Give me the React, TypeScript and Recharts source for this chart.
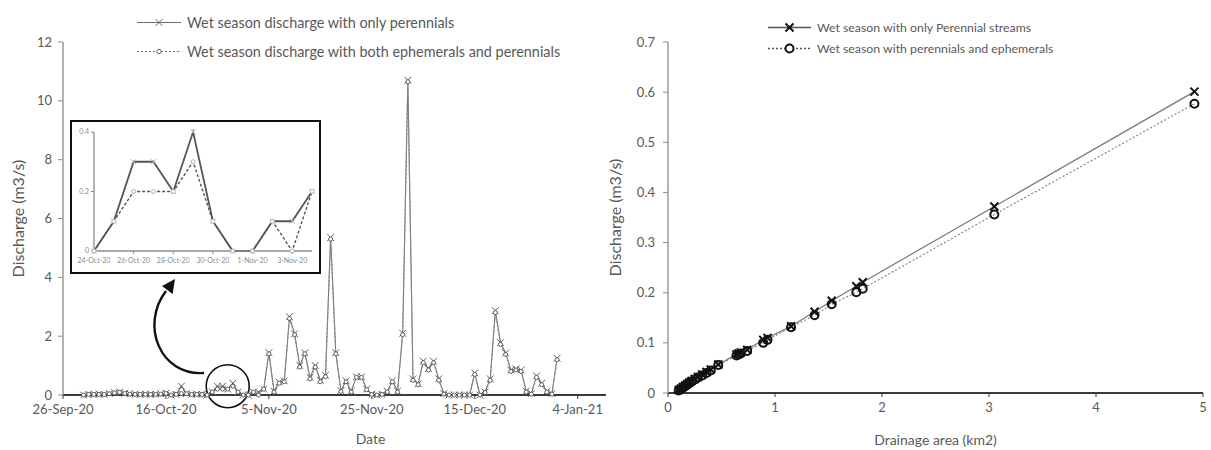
import React from "react";
import { LineChart, Line, XAxis, YAxis, Legend, ReferenceDot } from "recharts";

const FONT = "Lato, 'Open Sans', sans-serif";
const TEXT = "#595959";

// ---------- hydrograph (left) ----------
// x = days after 26-Sep-20; first record is 30-Sep-20, last 31-Dec-20
const firstDay = 4;
const perennials = [
  // 30-Sep .. 23-Oct
  0, 0.02, 0.02, 0.03, 0.02, 0.05, 0.08, 0.1, 0.06, 0.04, 0.03, 0.02, 0.03, 0.02, 0.03, 0.04, 0.06, 0, 0.02, 0.3, 0.05, 0.02, 0.03, 0.02,
  // 24-Oct .. 4-Nov
  0, 0.1, 0.3, 0.3, 0.2, 0.4, 0.1, 0, 0, 0.1, 0.1, 0.2,
  // 5-Nov .. 31-Dec
  1.44, 0.13, 0.44, 0.48, 2.66, 2.08, 1.0, 1.44, 0.6, 1.0, 0.5, 0.67, 5.35, 1.44, 0.15, 0.48, 0.13, 0.62, 0.62, 0.2, 0.03, 0, 0.02, 0.13, 0.48, 0.13,
  2.1, 10.7, 0.55, 0.38, 1.15, 0.9, 1.15, 0.55, 0.05, 0, 0, 0, 0, 0, 0.75, 0, 0.1, 0.55, 2.87, 1.78, 1.43, 0.85, 0.89, 0.85, 0.13, 0.05, 0.65, 0.4, 0.13, 0.05, 1.25,
];
const ephemerals = [
  0, 0.02, 0.02, 0.02, 0.02, 0.04, 0.07, 0.09, 0.05, 0.03, 0.02, 0.02, 0.02, 0.02, 0.02, 0.03, 0.05, 0, 0.02, 0.05, 0.04, 0.02, 0.02, 0.02,
  0, 0.1, 0.2, 0.2, 0.2, 0.3, 0.1, 0, 0, 0.1, 0, 0.2,
  1.4, 0.1, 0.4, 0.45, 2.6, 2.05, 0.95, 1.4, 0.55, 0.95, 0.45, 0.62, 5.3, 1.4, 0.12, 0.45, 0.1, 0.6, 0.6, 0.18, 0.02, 0, 0.02, 0.1, 0.45, 0.1,
  2.05, 10.65, 0.5, 0.35, 1.1, 0.85, 1.1, 0.5, 0.03, 0, 0, 0, 0, 0, 0.7, 0, 0.08, 0.5, 2.8, 1.72, 1.38, 0.8, 0.85, 0.8, 0.1, 0.03, 0.6, 0.35, 0.1, 0.03, 1.2,
];
const dateTicks = [0, 20, 40, 60, 80, 100];
const dateTickLabels = ["26-Sep-20", "16-Oct-20", "5-Nov-20", "25-Nov-20", "15-Dec-20", "4-Jan-21"];
const dischargeTicks = [0, 2, 4, 6, 8, 10, 12];

// zoomed inset, 24-Oct-20 .. 4-Nov-20
const insetFrom = 28;
const insetTo = 39;
const insetTicks = [28, 30, 32, 34, 36, 38];
const insetTickLabels = ["24-Oct-20", "26-Oct-20", "28-Oct-20", "30-Oct-20", "1-Nov-20", "3-Nov-20"];
const insetYTicks = [0, 0.2, 0.4];

// ---------- discharge vs drainage area (right) ----------
const areas = [0.1, 0.12, 0.14, 0.16, 0.18, 0.2, 0.22, 0.25, 0.28, 0.32, 0.36, 0.4, 0.47, 0.64, 0.66, 0.68, 0.74, 0.89, 0.93, 1.15, 1.37, 1.53, 1.76, 1.82, 3.05, 4.92];
const perennialQ = [0.006, 0.009, 0.012, 0.015, 0.018, 0.021, 0.024, 0.028, 0.032, 0.037, 0.042, 0.047, 0.057, 0.077, 0.079, 0.081, 0.086, 0.106, 0.11, 0.133, 0.162, 0.184, 0.213, 0.221, 0.372, 0.601];
const ephemeralQ = [0.005, 0.008, 0.011, 0.014, 0.017, 0.02, 0.023, 0.027, 0.031, 0.035, 0.04, 0.045, 0.056, 0.075, 0.077, 0.079, 0.084, 0.1, 0.106, 0.131, 0.155, 0.177, 0.201, 0.208, 0.356, 0.577];
const areaTicks = [0, 1, 2, 3, 4, 5];
const qTicks = [0, 0.1, 0.2, 0.3, 0.4, 0.5, 0.6, 0.7];

const hydro = perennials.map((v, i) => ({ day: firstDay + i, per: v, eph: ephemerals[i] }));
const insetData = hydro.filter((d) => d.day >= insetFrom && d.day <= insetTo);
const areaData = areas.map((a, i) => ({ area: a, per: perennialQ[i], eph: ephemeralQ[i] }));

const XMark = ({ cx, cy, s, color, w }: any) =>
  cx == null ? null : (
    <path
      d={`M${cx - s},${cy - s}L${cx + s},${cy + s}M${cx - s},${cy + s}L${cx + s},${cy - s}`}
      stroke={color}
      strokeWidth={w}
      fill="none"
    />
  );
const OMark = ({ cx, cy, r, color, w, fill }: any) =>
  cx == null ? null : <circle cx={cx} cy={cy} r={r} stroke={color} strokeWidth={w} fill={fill} />;

const xDot = (s: number, color: string, w: number) => (p: any) => (
  <XMark key={`x${p.index}`} cx={p.cx} cy={p.cy} s={s} color={color} w={w} />
);
const oDot = (r: number, color: string, w: number, fill: string) => (p: any) => (
  <OMark key={`o${p.index}`} cx={p.cx} cy={p.cy} r={r} color={color} w={w} fill={fill} />
);

const seriesOrder = ["per", "eph"];

// legend rows: line sample with the series marker, then the label
const legendContent =
  (rowH: number, sampleW: number, fontSize: number, big: boolean) =>
  ({ payload }: any) => {
    const items = [...(payload || [])].sort(
      (a: any, b: any) => seriesOrder.indexOf(a.dataKey) - seriesOrder.indexOf(b.dataKey)
    );
    return (
      <div style={{ fontFamily: FONT, fontSize, color: TEXT }}>
        {items.map((e: any) => {
          const solid = e.dataKey === "per";
          const mid = rowH / 2;
          return (
            <div key={e.dataKey} style={{ display: "flex", alignItems: "center", height: rowH, whiteSpace: "nowrap" }}>
              <svg width={sampleW} height={rowH} style={{ marginRight: 6 }}>
                <line
                  x1={0}
                  x2={sampleW}
                  y1={mid}
                  y2={mid}
                  stroke={big ? "#555" : "#6a6a6a"}
                  strokeWidth={big ? 1.3 : 1.2}
                  strokeDasharray={solid ? undefined : "2 2"}
                />
                {solid ? (
                  <XMark cx={sampleW / 2} cy={mid} s={big ? 4 : 3.5} color={big ? "#111" : "#666"} w={big ? 2 : 1} />
                ) : (
                  <OMark cx={sampleW / 2} cy={mid} r={big ? 4 : 2.2} color={big ? "#111" : "#666"} w={big ? 2 : 1} fill="#fff" />
                )}
              </svg>
              <span>{e.value}</span>
            </div>
          );
        })}
      </div>
    );
  };

const tickStyle = { fill: TEXT, fontSize: 13, fontFamily: FONT };
const titleStyle = { fill: TEXT, fontSize: 14, fontFamily: FONT };
const yTitleStyle = { fill: TEXT, fontSize: 16, fontFamily: FONT };

export default function App() {
  return (
    <div style={{ position: "absolute", left: 0, top: 0, width: 1211, height: 450, background: "#fff", overflow: "hidden" }}>
      {/* left: wet season hydrograph */}
      <div style={{ position: "absolute", left: 0, top: 0 }}>
        <LineChart width={620} height={450} data={hydro} margin={{ top: 42, right: 14, bottom: 0, left: 8 }}>
          <XAxis
            dataKey="day"
            type="number"
            domain={[0, 105.5]}
            ticks={dateTicks}
            tickFormatter={(v: number) => dateTickLabels[dateTicks.indexOf(v)] ?? ""}
            height={55}
            tick={tickStyle}
            tickSize={4}
            tickMargin={6}
            axisLine={{ stroke: "#3a3a3a", strokeWidth: 2 }}
            tickLine={{ stroke: "#3a3a3a" }}
            label={{ value: "Date", position: "insideBottom", offset: 6, dx: 36, ...titleStyle }}
          />
          <YAxis
            type="number"
            domain={[0, 12]}
            ticks={dischargeTicks}
            width={55}
            tick={tickStyle}
            tickSize={5}
            tickMargin={6}
            axisLine={{ stroke: "#8c8c8c", strokeWidth: 1.3 }}
            tickLine={{ stroke: "#8c8c8c" }}
            label={{ value: "Discharge (m3/s)", angle: -90, position: "insideLeft", offset: 10, style: { textAnchor: "middle" }, ...yTitleStyle }}
          />
          <Legend
            layout="vertical"
            align="center"
            verticalAlign="middle"
            wrapperStyle={{ left: 137, top: 7.5 }}
            content={legendContent(29, 44, 14.4, false)}
          />
          <Line
            dataKey="per"
            name="Wet season discharge with only perennials"
            stroke="#737373"
            strokeWidth={1.1}
            dot={xDot(3.4, "#5e5e5e", 1)}
            isAnimationActive={false}
          />
          <Line
            dataKey="eph"
            name="Wet season discharge with both ephemerals and perennials"
            stroke="#8c8c8c"
            strokeWidth={1.1}
            strokeDasharray="2 2"
            dot={oDot(2, "#5e5e5e", 1, "#fff")}
            isAnimationActive={false}
          />
          <ReferenceDot x={32} y={0.3} r={21.5} fill="none" stroke="#111" strokeWidth={1.6} />
        </LineChart>
      </div>

      {/* curved arrow from the circled period to the inset */}
      <svg width={620} height={450} style={{ position: "absolute", left: 0, top: 0, pointerEvents: "none" }}>
        <path d="M204,373 C160,376 140,325 166,291" stroke="#111" strokeWidth={2.4} fill="none" />
        <path d="M175,279 L172.6,294 L162,286 Z" fill="#111" />
      </svg>

      {/* inset: 24-Oct-20 to 4-Nov-20 */}
      <div
        style={{
          position: "absolute",
          left: 70,
          top: 120,
          width: 251,
          height: 154,
          border: "2px solid #111",
          boxSizing: "border-box",
          background: "#fff",
        }}
      >
        <LineChart width={247} height={150} data={insetData} margin={{ top: 10, right: 7, bottom: 0, left: 0 }}>
          <XAxis
            dataKey="day"
            type="number"
            domain={[insetFrom, insetTo]}
            ticks={insetTicks}
            tickFormatter={(v: number) => insetTickLabels[insetTicks.indexOf(v)] ?? ""}
            height={21}
            tick={{ fill: "#8c8c8c", fontSize: 7, fontFamily: FONT }}
            tickSize={3}
            tickMargin={4}
            axisLine={{ stroke: "#8c8c8c", strokeWidth: 1.3 }}
            tickLine={{ stroke: "#8c8c8c" }}
          />
          <YAxis
            type="number"
            domain={[0, 0.4]}
            ticks={insetYTicks}
            width={22}
            tick={{ fill: "#8c8c8c", fontSize: 7, fontFamily: FONT }}
            tickSize={3}
            tickMargin={2}
            axisLine={{ stroke: "#8c8c8c", strokeWidth: 1.3 }}
            tickLine={{ stroke: "#8c8c8c" }}
          />
          <Line dataKey="per" stroke="#555" strokeWidth={1.8} dot={xDot(2.5, "#b0b0b0", 1)} isAnimationActive={false} />
          <Line
            dataKey="eph"
            stroke="#555"
            strokeWidth={1.4}
            strokeDasharray="3 2"
            dot={oDot(2, "#b0b0b0", 1, "#fff")}
            isAnimationActive={false}
          />
        </LineChart>
      </div>

      {/* right: discharge vs drainage area */}
      <div style={{ position: "absolute", left: 600, top: 0 }}>
        <LineChart width={611} height={450} data={areaData} margin={{ top: 42, right: 8, bottom: 0, left: 13 }}>
          <XAxis
            dataKey="area"
            type="number"
            domain={[0, 5]}
            ticks={areaTicks}
            height={57}
            tick={tickStyle}
            tickSize={4}
            tickMargin={6}
            axisLine={{ stroke: "#3a3a3a", strokeWidth: 2 }}
            tickLine={{ stroke: "#3a3a3a" }}
            label={{ value: "Drainage area (km2)", position: "insideBottom", offset: 5, ...titleStyle }}
          />
          <YAxis
            type="number"
            domain={[0, 0.7]}
            ticks={qTicks}
            width={55}
            tick={tickStyle}
            tickSize={5}
            tickMargin={8}
            axisLine={{ stroke: "#8c8c8c", strokeWidth: 1.3 }}
            tickLine={{ stroke: "#8c8c8c" }}
            label={{ value: "Discharge (m3/s)", angle: -90, position: "insideLeft", offset: 2, style: { textAnchor: "middle" }, ...yTitleStyle }}
          />
          <Legend
            layout="vertical"
            align="center"
            verticalAlign="middle"
            wrapperStyle={{ left: 168, top: 16.5 }}
            content={legendContent(21, 43, 12.3, true)}
          />
          <Line
            dataKey="per"
            name="Wet season with only Perennial streams"
            stroke="#777"
            strokeWidth={1.2}
            dot={xDot(4, "#111", 2)}
            isAnimationActive={false}
          />
          <Line
            dataKey="eph"
            name="Wet season with perennials and ephemerals"
            stroke="#888"
            strokeWidth={1.2}
            strokeDasharray="2 2"
            dot={oDot(4, "#111", 2, "none")}
            isAnimationActive={false}
          />
        </LineChart>
      </div>
    </div>
  );
}
